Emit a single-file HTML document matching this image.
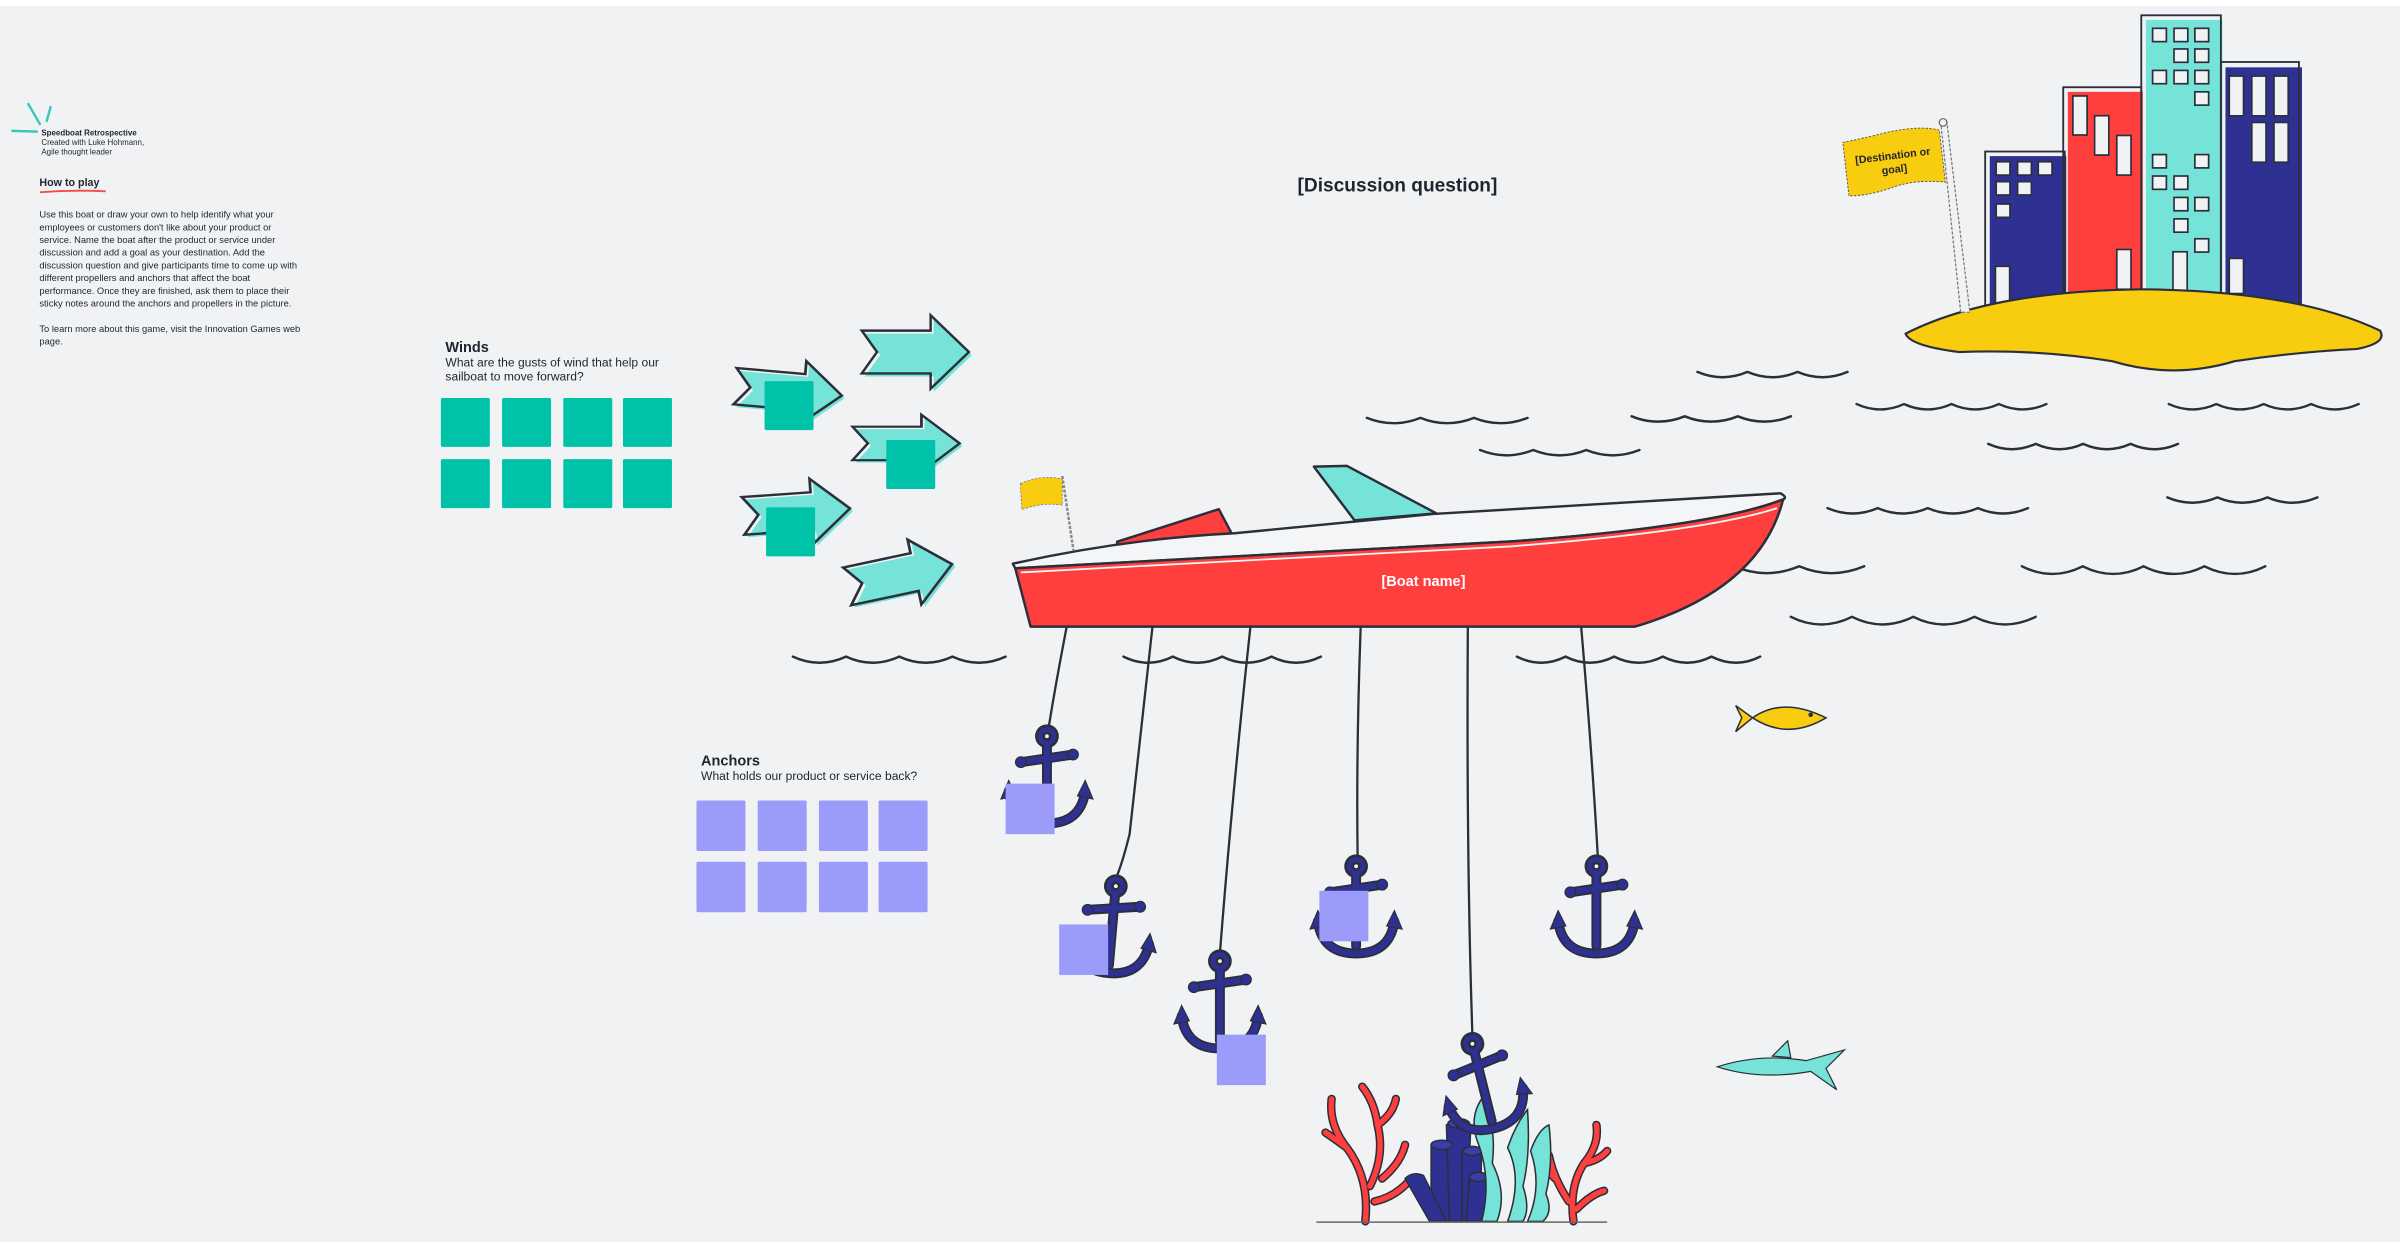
<!DOCTYPE html>
<html><head><meta charset="utf-8"><style>
html,body{margin:0;padding:0;background:#fff;}
svg{display:block;}
text{font-family:"Liberation Sans",sans-serif;}
</style></head><body>
<svg width="2400" height="1248" viewBox="0 0 1568 815.4" xmlns="http://www.w3.org/2000/svg">
<defs>
<g id="A">
 <g fill="none" stroke="#2b2f3a" stroke-width="6.5" stroke-linecap="round">
  <circle cx="0" cy="0" r="4.5"/><path d="M0 5 L0 52"/><path d="M-17 17 L17 12"/><path d="M-25 36 Q-22 57 0 57 Q22 57 25 36"/>
 </g>
 <g fill="none" stroke="#2e3192" stroke-width="4" stroke-linecap="round">
  <circle cx="0" cy="0" r="4.5" stroke-width="3"/><path d="M0 5 L0 52"/><path d="M-17 17 L17 12"/><path d="M-25 36 Q-22 57 0 57 Q22 57 25 36"/>
 </g>
 <g fill="#2e3192" stroke="#2b2f3a" stroke-width="0.8">
  <circle cx="-17" cy="17" r="3.5"/><circle cx="17" cy="12" r="3.5"/>
  <polygon points="-30,41 -25,29 -20,39"/><polygon points="30,41 25,29 20,39"/>
 </g>
</g>
<polygon id="AR" points="0,10 45,10 45,0 70,24 45,48 45,38 0,38 10,24"/>
</defs>
<rect x="0" y="0" width="1568" height="815.4" fill="#ffffff"/>
<rect x="0" y="4" width="1568" height="807.5" fill="#f1f2f4"/>

<g stroke="#3cc6be" stroke-width="1.6" stroke-linecap="round">
<path d="M8 85.5 L24 86"/><path d="M18.5 68 L26 81"/><path d="M33 70 L30.5 79"/>
</g>
<text x="27" y="88.5" font-size="5.2" font-weight="bold" fill="#1f2430">Speedboat Retrospective</text>
<text x="27" y="94.8" font-size="5.2" fill="#1f2430">Created with Luke Hohmann,</text>
<text x="27" y="101" font-size="5.2" fill="#1f2430">Agile thought leader</text>
<text x="25.7" y="121.5" font-size="7" font-weight="bold" fill="#1f2430">How to play</text>
<path d="M26 125.6 Q47 124 69 125" stroke="#f24b4b" stroke-width="1.2" fill="none"/>
<g font-size="6.1" fill="#1f2430">
<text x="25.7" y="142.2">Use this boat or draw your own to help identify what your</text>
<text x="25.7" y="150.5">employees or customers don't like about your product or</text>
<text x="25.7" y="158.8">service. Name the boat after the product or service under</text>
<text x="25.7" y="167.1">discussion and add a goal as your destination. Add the</text>
<text x="25.7" y="175.4">discussion question and give participants time to come up with</text>
<text x="25.7" y="183.7">different propellers and anchors that affect the boat</text>
<text x="25.7" y="192.0">performance. Once they are finished, ask them to place their</text>
<text x="25.7" y="200.3">sticky notes around the anchors and propellers in the picture.</text>
<text x="25.7" y="216.9">To learn more about this game, visit the Innovation Games web</text>
<text x="25.7" y="225.2">page.</text>
</g>

<text x="913" y="125" font-size="12.5" font-weight="bold" fill="#1f2430" text-anchor="middle">[Discussion question]</text>

<text x="291" y="230" font-size="9.5" font-weight="bold" fill="#1f2430">Winds</text>
<text x="291" y="239.5" font-size="7.9" fill="#1f2430">What are the gusts of wind that help our</text>
<text x="291" y="248.5" font-size="7.9" fill="#1f2430">sailboat to move forward?</text>
<g fill="#00c2a8">
<rect x="288" y="260" width="32" height="32" rx="1"/><rect x="328" y="260" width="32" height="32" rx="1"/><rect x="368" y="260" width="32" height="32" rx="1"/><rect x="407" y="260" width="32" height="32" rx="1"/>
<rect x="288" y="300" width="32" height="32" rx="1"/><rect x="328" y="300" width="32" height="32" rx="1"/><rect x="368" y="300" width="32" height="32" rx="1"/><rect x="407" y="300" width="32" height="32" rx="1"/>
</g>

<g>
 <g transform="translate(563,206) scale(1,1)"><use href="#AR" fill="#76e3d8" transform="translate(2,2)"/><use href="#AR" fill="none" stroke="#2b2f3a" stroke-width="1.6"/></g>
 <g transform="translate(557,271) scale(1,0.78)"><use href="#AR" fill="#76e3d8" transform="translate(2,2)"/><use href="#AR" fill="none" stroke="#2b2f3a" stroke-width="1.8"/></g>
 <g transform="translate(482,232) rotate(5) scale(1,0.85)"><use href="#AR" fill="#76e3d8" transform="translate(2,2)"/><use href="#AR" fill="none" stroke="#2b2f3a" stroke-width="1.8"/></g>
 <g transform="translate(484,316) rotate(-4) scale(1,0.88)"><use href="#AR" fill="#76e3d8" transform="translate(2,2)"/><use href="#AR" fill="none" stroke="#2b2f3a" stroke-width="1.8"/></g>
 <g transform="translate(549,362) rotate(-12) scale(1,0.9)"><use href="#AR" fill="#76e3d8" transform="translate(2,2)"/><use href="#AR" fill="none" stroke="#2b2f3a" stroke-width="1.8"/></g>
</g>
<g fill="#00c2a8">
<rect x="499.5" y="249" width="32" height="32" rx="1"/><rect x="579" y="287.5" width="32" height="32" rx="1"/><rect x="500.5" y="331.5" width="32" height="32" rx="1"/>
</g>

<text x="458" y="500" font-size="9.5" font-weight="bold" fill="#1f2430">Anchors</text>
<text x="458" y="509.5" font-size="7.9" fill="#1f2430">What holds our product or service back?</text>
<g fill="#9b9bfa">
<rect x="455" y="523" width="32" height="33" rx="1"/><rect x="495" y="523" width="32" height="33" rx="1"/><rect x="535" y="523" width="32" height="33" rx="1"/><rect x="574" y="523" width="32" height="33" rx="1"/>
<rect x="455" y="563" width="32" height="33" rx="1"/><rect x="495" y="563" width="32" height="33" rx="1"/><rect x="535" y="563" width="32" height="33" rx="1"/><rect x="574" y="563" width="32" height="33" rx="1"/>
</g>

<g fill="none" stroke="#2b2f3a" stroke-width="1.6" stroke-linecap="round">
<path d="M518 429 q17.4 8 34.75 0 q17.4 8 34.75 0 q17.4 8 34.75 0 q17.4 8 34.75 0"/>
<path d="M734 429 q16 8 32.25 0 q16 8 32.25 0 q16 8 32.25 0 q16 8 32.25 0"/>
<path d="M991 429 q16 8 31.8 0 q16 8 31.8 0 q16 8 31.8 0 q16 8 31.8 0 q16 8 31.8 0"/>
<path d="M893 273 q17.5 7 35 0 q17.5 7 35 0 q17.5 7 35 0"/>
<path d="M967 294 q17.3 7 34.7 0 q17.3 7 34.7 0 q17.3 7 34.7 0"/>
<path d="M1066 272 q17.3 7 34.7 0 q17.3 7 34.7 0 q17.3 7 34.7 0"/>
<path d="M1109 243 q16.3 7 32.7 0 q16.3 7 32.7 0 q16.3 7 32.7 0"/>
<path d="M1213 264 q15.5 7 31 0 q15.5 7 31 0 q15.5 7 31 0 q15.5 7 31 0"/>
<path d="M1299 290 q15.5 7 31 0 q15.5 7 31 0 q15.5 7 31 0 q15.5 7 31 0"/>
<path d="M1417 264 q15.5 7 31 0 q15.5 7 31 0 q15.5 7 31 0 q15.5 7 31 0"/>
<path d="M1194 332 q16.4 7 32.75 0 q16.4 7 32.75 0 q16.4 7 32.75 0 q16.4 7 32.75 0"/>
<path d="M1416 325 q16.3 7 32.7 0 q16.3 7 32.7 0 q16.3 7 32.7 0"/>
<path d="M1133 370 q21 9 42.5 0 q21 9 42.5 0"/>
<path d="M1321 370 q20 10 39.75 0 q20 10 39.75 0 q20 10 39.75 0 q20 10 39.75 0"/>
<path d="M1170 403 q20 10 40 0 q20 10 40 0 q20 10 40 0 q20 10 40 0"/>
</g>

<g fill="none" stroke="#2b2f3a" stroke-width="1.5">
<path d="M697 409 Q690 445 685 476"/>
<path d="M753 409 Q745 480 738 545 Q733 565 729 574"/>
<path d="M817 409 Q805 520 797 623"/>
<path d="M889 409 Q886 490 887 561"/>
<path d="M959 409 Q958 560 962 677"/>
<path d="M1033 409 Q1040 490 1044 561"/>
</g>

<g>
 <polygon points="858.4,304.9 880,304.4 938.4,335.4 885,340" fill="#76e3d8" stroke="#2b2f3a" stroke-width="1.6" stroke-linejoin="round"/>
 <polygon points="729.9,353.9 796.3,332.7 804.6,348.4 729.9,357.2" fill="#ff3e3e" stroke="#2b2f3a" stroke-width="1.6" stroke-linejoin="round"/>
 <path d="M661.7,368.3 Q735,352 806.6,348.4 L936.7,335.8 L1163.3,322.3 Q1168,325 1165,326.3 Q1120,344 986.7,353.8 L663.3,371.3 Z" fill="#f4f5f7" stroke="#2b2f3a" stroke-width="1.6" stroke-linejoin="round"/>
 <path d="M663.3,371.3 L986.7,353.8 Q1120,344 1165,326.3 Q1150,385 1068.3,409.4 L673.3,409.4 Z" fill="#ff3e3e" stroke="#2b2f3a" stroke-width="1.6" stroke-linejoin="round"/>
 <path d="M667,374 L986.7,357 Q1115,347 1161,332" fill="none" stroke="#f4f5f7" stroke-width="1.2"/>
 <text x="930" y="383" font-size="9.5" font-weight="bold" fill="#ffffff" text-anchor="middle">[Boat name]</text>
 <path d="M694,311 L701.4,360" stroke="#888" stroke-width="1.6" stroke-dasharray="2,1"/>
 <path d="M666.6,316 Q680,310 694,313 L694,330 Q681,328 667.6,333 Z" fill="#f9cd0f" stroke="#777" stroke-width="0.5" stroke-dasharray="1.5,1"/>
</g>

<use href="#A" x="684" y="481"/>
<use href="#A" transform="translate(729,579) rotate(5)"/>
<use href="#A" x="797" y="628"/>
<use href="#A" x="886" y="566"/>
<use href="#A" x="1043" y="566"/>

<g>
 <g fill="none" stroke-linecap="round" stroke-linejoin="round">
  <g stroke="#2b2f3a" stroke-width="5.5">
   <path d="M892 798 Q895 770 880 750 Q868 735 870 718 M880 750 Q872 744 866 740 M895 775 Q905 755 900 735 Q898 720 890 710 M900 735 Q910 728 912 718 M903 770 Q915 760 918 748 M898 785 Q912 782 922 770"/>
   <path d="M1028 798 Q1025 775 1035 760 Q1045 748 1043 735 M1035 760 Q1045 758 1050 752 M1025 785 Q1015 770 1012 755 M1016 770 Q1008 762 1008 752 M1030 790 Q1040 780 1048 778"/>
  </g>
  <g stroke="#ff3e3e" stroke-width="3.5">
   <path d="M892 798 Q895 770 880 750 Q868 735 870 718 M880 750 Q872 744 866 740 M895 775 Q905 755 900 735 Q898 720 890 710 M900 735 Q910 728 912 718 M903 770 Q915 760 918 748 M898 785 Q912 782 922 770"/>
   <path d="M1028 798 Q1025 775 1035 760 Q1045 748 1043 735 M1035 760 Q1045 758 1050 752 M1025 785 Q1015 770 1012 755 M1016 770 Q1008 762 1008 752 M1030 790 Q1040 780 1048 778"/>
  </g>
 </g>
 <g fill="#2e3192" stroke="#2b2f3a" stroke-width="1">
  <path d="M935 798 L935 748 Q942 744 949 748 L950 798 Z"/>
  <path d="M947 798 L945 735 Q953 730 961 735 L958 798 Z"/>
  <path d="M955 798 L955 752 Q962 748 968 752 L967 798 Z"/>
  <path d="M958 798 L960 770 Q967 766 973 770 L968 798 Z"/>
  <path d="M934 798 L918 770 Q923 765 930 768 L945 798 Z"/>
  <ellipse cx="942" cy="748" rx="7" ry="3" fill="#3a3ea8"/><ellipse cx="953" cy="734" rx="7" ry="3" fill="#3a3ea8"/><ellipse cx="962" cy="752" rx="6" ry="3" fill="#3a3ea8"/><ellipse cx="966" cy="769" rx="6" ry="3" fill="#3a3ea8"/>
 </g>
 <g fill="#76e3d8" stroke="#2b2f3a" stroke-width="1">
  <path d="M968 798 Q975 770 965 745 Q960 730 968 718 Q978 735 975 760 Q985 780 978 798 Z"/>
  <path d="M985 798 Q995 770 985 750 Q990 735 998 725 Q1000 755 995 775 Q1000 790 995 798 Z"/>
  <path d="M998 798 Q1008 775 1000 752 Q1005 738 1012 735 Q1015 760 1010 780 Q1015 792 1008 798 Z"/>
 </g>
 <line x1="860" y1="798.5" x2="1050" y2="798.5" stroke="#666" stroke-width="1"/>
</g>
<use href="#A" transform="translate(962,682) rotate(-14)"/>

<g fill="#9b9bfa">
<rect x="657" y="512" width="32" height="33"/><rect x="692" y="604" width="32" height="33"/><rect x="795" y="676" width="32" height="33"/><rect x="862" y="582" width="32" height="33"/>
</g>

<g stroke="#2b2f3a" stroke-width="1">
 <path d="M1145 469 Q1165 455 1193 469 Q1168 484 1145 469 Z" fill="#f9cd0f"/>
 <path d="M1145 469 L1134 461 L1138 469 L1134 478 Z" fill="#f9cd0f"/>
 <circle cx="1183" cy="467" r="1" fill="#2b2f3a"/>
</g>
<g stroke="#2b2f3a" stroke-width="0.8">
 <path d="M1122 697 Q1150 688 1180 693 L1205 686 L1193 698 L1200 712 L1183 700 Q1150 706 1122 697 Z" fill="#76e3d8"/>
 <path d="M1158 690 L1168 680 L1170 691 Z" fill="#76e3d8"/>
</g>

<g>
 <rect x="1300" y="102" width="50" height="98" fill="#2e3192"/>
 <rect x="1351" y="60" width="49" height="140" fill="#ff3e3e"/>
 <rect x="1402" y="13" width="50" height="187" fill="#76e3d8"/>
 <rect x="1454" y="44" width="50" height="156" fill="#2e3192"/>
 <g fill="none" stroke="#2b2f3a" stroke-width="1.2">
  <rect x="1297" y="99" width="52" height="101"/>
  <rect x="1348" y="57" width="51" height="143"/>
  <rect x="1399" y="10" width="52" height="190"/>
  <rect x="1451" y="40.5" width="51" height="160"/>
 </g>
 <g fill="#f1f2f4" stroke="#2b2f3a" stroke-width="1.1">
  <rect x="1406.4" y="18.5" width="9" height="8.7"/><rect x="1420.4" y="18.5" width="9" height="8.7"/><rect x="1434" y="18.5" width="9" height="8.7"/>
  <rect x="1420.4" y="32" width="9" height="8.7"/><rect x="1434" y="32" width="9" height="8.7"/>
  <rect x="1406.4" y="46" width="9" height="8.7"/><rect x="1420.4" y="46" width="9" height="8.7"/><rect x="1434" y="46" width="9" height="8.7"/>
  <rect x="1434" y="60" width="9" height="8.7"/>
  <rect x="1406.4" y="101" width="9" height="8.7"/><rect x="1434" y="101" width="9" height="8.7"/>
  <rect x="1406.4" y="115" width="9" height="8.7"/><rect x="1420.4" y="115" width="9" height="8.7"/>
  <rect x="1420.4" y="129" width="9" height="8.7"/><rect x="1434" y="129" width="9" height="8.7"/>
  <rect x="1420.4" y="143" width="9" height="8.7"/>
  <rect x="1434" y="156" width="9" height="8.7"/>
  <rect x="1419.7" y="164.5" width="9.3" height="26"/>
  <rect x="1304.2" y="105.7" width="9" height="8.7"/><rect x="1318.2" y="105.7" width="9" height="8.7"/><rect x="1331.7" y="105.7" width="9" height="8.7"/>
  <rect x="1304.2" y="118.7" width="9" height="8.7"/><rect x="1318.2" y="118.7" width="9" height="8.7"/>
  <rect x="1304.2" y="133.3" width="9" height="8.7"/>
  <rect x="1303.7" y="174" width="9.3" height="24"/>
  <rect x="1354.3" y="62.7" width="9.3" height="25.5"/><rect x="1368.5" y="75.6" width="9.3" height="25.7"/><rect x="1383" y="88.5" width="9.3" height="25.9"/>
  <rect x="1383" y="163" width="9.3" height="26"/>
  <rect x="1456.5" y="49.7" width="9.3" height="26"/><rect x="1471.2" y="49.7" width="9.3" height="26"/><rect x="1485.7" y="49.7" width="9.3" height="26"/>
  <rect x="1471.2" y="80" width="9.3" height="26"/><rect x="1485.7" y="80" width="9.3" height="26"/>
  <rect x="1456.5" y="168.8" width="9.3" height="23"/>
 </g>
 <path d="M1245 218 Q1300 190 1400 189 Q1500 190 1555 216 Q1560 224 1540 228 Q1500 230 1460 236 Q1420 248 1380 236 Q1330 228 1280 230 Q1248 226 1245 218 Z" fill="#f9cd0f" stroke="#2b2f3a" stroke-width="1.4"/>
 <path d="M1268 80 L1272 80 L1287 204 L1281 204 Z" fill="#f1f2f4" stroke="#777" stroke-width="0.8" stroke-dasharray="2,1"/>
 <circle cx="1269.5" cy="80" r="2.5" fill="#f1f2f4" stroke="#555" stroke-width="0.7"/>
 <path d="M1204 93 Q1215 91 1235 86 Q1255 82 1267 85 L1271 119 Q1250 117 1235 123 Q1220 128 1208 128 Z" fill="#f9cd0f" stroke="#555" stroke-width="0.6" stroke-dasharray="1.5,1"/>
 <g transform="rotate(-7 1237 105)" font-size="7" font-weight="bold" fill="#1f2430" text-anchor="middle">
  <text x="1237" y="104">[Destination or</text><text x="1237" y="113">goal]</text>
 </g>
</g>
</svg>
</body></html>
